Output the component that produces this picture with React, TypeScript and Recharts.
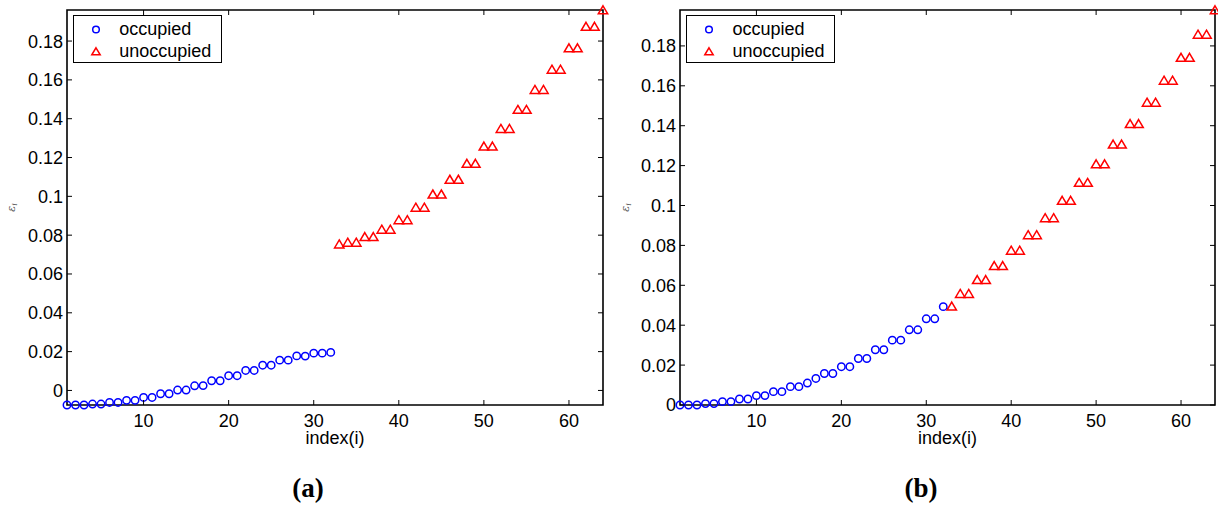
import React from 'react';
import { ScatterChart, Scatter, XAxis, YAxis, ReferenceArea, Legend } from 'recharts';

const indexOcc = [1, 2, 3, 4, 5, 6, 7, 8, 9, 10, 11, 12, 13, 14, 15, 16, 17, 18, 19, 20, 21, 22, 23, 24, 25, 26, 27, 28, 29, 30, 31, 32];
const indexUnocc = [33, 34, 35, 36, 37, 38, 39, 40, 41, 42, 43, 44, 45, 46, 47, 48, 49, 50, 51, 52, 53, 54, 55, 56, 57, 58, 59, 60, 61, 62, 63, 64];

// panel (a)
const occA = [
  -0.0075, -0.0075, -0.0075, -0.007, -0.007, -0.0062, -0.0062, -0.0051, -0.0051, -0.0036, -0.0036,
  -0.0017, -0.0017, 0.0002, 0.0002, 0.0024, 0.0025, 0.005, 0.005, 0.0076, 0.0076, 0.0103, 0.0103,
  0.013, 0.013, 0.0156, 0.0156, 0.0178, 0.0177, 0.0192, 0.0192, 0.0196,
];
const unoccA = [
  0.0754, 0.0763, 0.0763, 0.0792, 0.0792, 0.083, 0.083, 0.0879, 0.0879, 0.0943, 0.0943, 0.1011,
  0.1011, 0.1087, 0.1087, 0.1169, 0.1169, 0.1258, 0.1258, 0.1349, 0.1349, 0.1447, 0.1447, 0.155,
  0.155, 0.1654, 0.1654, 0.1764, 0.1764, 0.1875, 0.1875, 0.196,
];

// panel (b)
const occB = [
  0, 0, 0, 0.0007, 0.0007, 0.0017, 0.0017, 0.003, 0.003, 0.0047, 0.0047, 0.0067, 0.0067, 0.0092,
  0.0092, 0.011, 0.0133, 0.0158, 0.0158, 0.0192, 0.0192, 0.0233, 0.0233, 0.0277, 0.0277, 0.0325,
  0.0325, 0.0377, 0.0377, 0.0432, 0.0432, 0.0493,
];
const unoccB = [
  0.0495, 0.0558, 0.0558, 0.0628, 0.0628, 0.0698, 0.0698, 0.0775, 0.0775, 0.0853, 0.0853, 0.0938,
  0.0938, 0.1025, 0.1025, 0.1115, 0.1115, 0.1208, 0.1208, 0.1307, 0.1307, 0.141, 0.141, 0.1517,
  0.1517, 0.1627, 0.1627, 0.1742, 0.1742, 0.1858, 0.1858, 0.198,
];

const xTicks = [10, 20, 30, 40, 50, 60];
const yTicks = [0, 0.02, 0.04, 0.06, 0.08, 0.1, 0.12, 0.14, 0.16, 0.18];
const yTickLabels = ['0', '0.02', '0.04', '0.06', '0.08', '0.1', '0.12', '0.14', '0.16', '0.18'];
const seriesNames = ['occupied', 'unoccupied'];

const FONT = '"Liberation Sans", Arial, Helvetica, sans-serif';
const TICK = 5;
const PLOT_TOP = 10;

const toPoints = (xs: number[], ys: number[]) => ys.map((y, i) => ({ x: xs[i], y }));

const CircleMark = (p: any) => (
  <circle cx={p.cx} cy={p.cy} r={3.7} fill="none" stroke="#0000ff" strokeWidth={1.5} />
);

const TriMark = (p: any) => {
  const { cx, cy } = p;
  return (
    <polygon
      points={`${cx},${cy - 4.2} ${cx + 4.7},${cy + 3.8} ${cx - 4.7},${cy + 3.8}`}
      fill="none"
      stroke="#ff0000"
      strokeWidth={1.5}
      strokeLinejoin="miter"
    />
  );
};

// bottom ticks: label + inward tick at bottom and top of the box
const makeXTick = () => (props: any) => {
  const { x, y, payload } = props;
  return (
    <g>
      <line x1={x} x2={x} y1={y} y2={y - TICK} stroke="#000" strokeWidth={1} />
      <line x1={x} x2={x} y1={PLOT_TOP} y2={PLOT_TOP + TICK} stroke="#000" strokeWidth={1} />
      <text x={x} y={y + 22} textAnchor="middle" fontSize={18} fontFamily={FONT} fill="#000">
        {payload.value}
      </text>
    </g>
  );
};

// left ticks: label + inward tick at left and right of the box
const makeYTick = (plotRight: number) => (props: any) => {
  const { x, y, payload } = props;
  const idx = yTicks.findIndex((t) => Math.abs(t - payload.value) < 1e-9);
  return (
    <g>
      <line x1={x} x2={x + TICK} y1={y} y2={y} stroke="#000" strokeWidth={1} />
      <line x1={plotRight} x2={plotRight - TICK} y1={y} y2={y} stroke="#000" strokeWidth={1} />
      <text x={x - 4} y={y} dy="0.36em" textAnchor="end" fontSize={18} fontFamily={FONT} fill="#000">
        {idx >= 0 ? yTickLabels[idx] : payload.value}
      </text>
    </g>
  );
};

const EpsLabel = (props: any) => {
  const vb = props.viewBox || { x: 0, y: PLOT_TOP, height: 395 };
  const cx = vb.x + props.dx0;
  const cy = vb.y + vb.height / 2;
  return (
    <text
      x={cx}
      y={cy}
      transform={`rotate(-90 ${cx} ${cy})`}
      textAnchor="middle"
      dy="0.3em"
      fontSize={11}
      fontStyle="italic"
      fontFamily='"DejaVu Serif", serif'
      fill="#555"
    >
      ε<tspan dy={2} fontSize={8}>i</tspan>
    </text>
  );
};

const makeLegend = () => (props: any) => {
  const payload = props.payload || [];
  return (
    <div
      style={{
        width: 149,
        height: 48,
        boxSizing: 'border-box',
        border: '1.5px solid #000',
        background: '#fff',
        position: 'relative',
        fontFamily: FONT,
        fontSize: 18,
        color: '#000',
      }}
    >
      {payload.map((entry: any, i: number) => (
        <div
          key={entry.value}
          style={{ position: 'absolute', left: 0, top: i === 0 ? 3 : 24.5, height: 21, width: 147, lineHeight: '21px' }}
        >
          <svg width={20} height={21} style={{ position: 'absolute', left: 12, top: 0 }}>
            {i === 0 ? (
              <circle cx={10} cy={10.5} r={3.3} fill="none" stroke="#0000ff" strokeWidth={1.5} />
            ) : (
              <polygon points="10,6.8 14.2,13.8 5.8,13.8" fill="none" stroke="#ff0000" strokeWidth={1.5} />
            )}
          </svg>
          <span style={{ position: 'absolute', left: 45.5, top: 0, whiteSpace: 'nowrap' }}>{entry.value}</span>
        </div>
      ))}
    </div>
  );
};

type PanelProps = {
  occ: number[];
  unocc: number[];
  yDomain: [number, number];
  left: number;
  yAxisWidth: number;
  marginRight: number;
  labelX: number;
  legendLeft: number;
};

const W = 610;
const H = 506;
const X_AXIS_H = 40;
const PLOT_BOTTOM = 405;

function Panel({ occ, unocc, yDomain, left, yAxisWidth, marginRight, labelX, legendLeft }: PanelProps) {
  const plotRight = W - marginRight;
  return (
    <div style={{ position: 'absolute', left, top: 0, width: W, height: H }}>
      <ScatterChart
        width={W}
        height={H}
        margin={{ top: PLOT_TOP, right: marginRight, bottom: H - PLOT_BOTTOM - X_AXIS_H, left: 0 }}
      >
        <XAxis
          type="number"
          dataKey="x"
          domain={[1, 64]}
          ticks={xTicks}
          height={X_AXIS_H}
          axisLine={false}
          tickLine={false}
          tickSize={0}
          tickMargin={0}
          tick={makeXTick()}
          interval={0}
          label={{ value: 'index(i)', position: 'insideBottom', offset: 1, fontSize: 18, fill: '#000', fontFamily: FONT }}
        />
        <YAxis
          type="number"
          dataKey="y"
          domain={yDomain}
          ticks={yTicks}
          width={yAxisWidth}
          axisLine={false}
          tickLine={false}
          tickSize={0}
          tickMargin={0}
          tick={makeYTick(plotRight)}
          interval={0}
          label={<EpsLabel dx0={labelX} />}
        />
        <ReferenceArea
          x1={1}
          x2={64}
          y1={yDomain[0]}
          y2={yDomain[1]}
          fill="none"
          fillOpacity={0}
          stroke="#000"
          strokeWidth={1.6}
        />
        <Legend
          layout="vertical"
          align="center"
          verticalAlign="middle"
          content={makeLegend()}
          wrapperStyle={{ left: legendLeft, top: 15, width: 149, height: 48 }}
        />
        <Scatter
          name={seriesNames[0]}
          data={toPoints(indexOcc, occ)}
          fill="#0000ff"
          shape={CircleMark}
          isAnimationActive={false}
        />
        <Scatter
          name={seriesNames[1]}
          data={toPoints(indexUnocc, unocc)}
          fill="#ff0000"
          shape={TriMark}
          isAnimationActive={false}
        />
      </ScatterChart>
    </div>
  );
}

export default function App() {
  return (
    <div
      style={{
        position: 'absolute',
        left: 0,
        top: 0,
        width: 1218,
        height: 506,
        background: '#fff',
        overflow: 'hidden',
      }}
    >
      <Panel
        occ={occA}
        unocc={unoccA}
        yDomain={[-0.0075, 0.196]}
        left={0}
        yAxisWidth={67}
        marginRight={7}
        labelX={11.5}
        legendLeft={72.7}
      />
      <Panel
        occ={occB}
        unocc={unoccB}
        yDomain={[0, 0.198]}
        left={608}
        yAxisWidth={72}
        marginRight={3}
        labelX={18}
        legendLeft={78}
      />
      <svg width={1218} height={506} style={{ position: 'absolute', left: 0, top: 0, pointerEvents: 'none' }}>
        <text x={308} y={497} textAnchor="middle" fontSize={27} fontFamily='"Liberation Serif", "Times New Roman", serif' fontWeight="bold">
          (<tspan>a</tspan>)
        </text>
        <text x={921} y={497} textAnchor="middle" fontSize={27} fontFamily='"Liberation Serif", "Times New Roman", serif' fontWeight="bold">
          (<tspan>b</tspan>)
        </text>
      </svg>
    </div>
  );
}
